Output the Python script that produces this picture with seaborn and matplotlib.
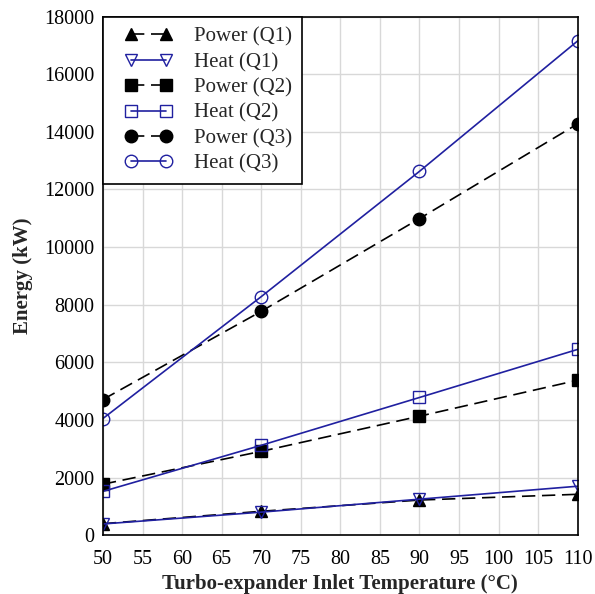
import pandas as pd
import numpy as np
import matplotlib.pyplot as plt
import seaborn as sns
from matplotlib.lines import Line2D
from matplotlib.legend_handler import HandlerLine2D

temps = [50, 70, 90, 110]
power_q1 = [400, 830, 1220, 1420]
heat_q1 = [390, 800, 1250, 1700]
power_q2 = [1770, 2910, 4130, 5380]
heat_q2 = [1520, 3120, 4780, 6450]
power_q3 = [4710, 7770, 10990, 14280]
heat_q3 = [4050, 8280, 12630, 17160]

series = [
    ('Power (Q1)', power_q1, 'black', '^', 'full', (0, (8, 4))),
    ('Heat (Q1)', heat_q1, '#2020a0', 'v', 'none', '-'),
    ('Power (Q2)', power_q2, 'black', 's', 'full', (0, (8, 4))),
    ('Heat (Q2)', heat_q2, '#2020a0', 's', 'none', '-'),
    ('Power (Q3)', power_q3, 'black', 'o', 'full', (0, (8, 4))),
    ('Heat (Q3)', heat_q3, '#2020a0', 'o', 'none', '-'),
]

sns.set_style('white')
plt.rcParams['font.family'] = ['Liberation Serif', 'DejaVu Serif']

fig = plt.figure(figsize=(5.95, 5.94), dpi=100)
ax = fig.add_axes([0.173, 0.099, 0.798, 0.873])

for name, vals, col, mk, fill, ls in series:
    df = pd.DataFrame({'T': temps, 'E': vals})
    sns.lineplot(data=df, x='T', y='E', ax=ax, color=col, marker=mk,
                 markersize=9, fillstyle=fill, markeredgecolor=col,
                 markerfacecolor=col if fill == 'full' else 'none',
                 markeredgewidth=1.0, linewidth=1.2, linestyle=ls, label=name)

ax.set_xlim(50, 110)
ax.set_ylim(0, 18000)
ax.set_xticks(np.arange(50, 111, 5))
ax.set_yticks(np.arange(0, 18001, 2000))
ax.grid(True, color='#d8d8d8', linewidth=1.0)
ax.set_axisbelow(True)
for s in ax.spines.values():
    s.set_color('black')
    s.set_linewidth(1.2)
ax.tick_params(labelsize=14.5, colors='black', length=0)
ax.tick_params(axis='x', pad=11)
ax.tick_params(axis='y', pad=6)
ax.set_xlabel('Turbo-expander Inlet Temperature (°C)', fontsize=15, fontweight='bold', labelpad=3)
ax.set_ylabel('Energy (kW)', fontsize=15, fontweight='bold', labelpad=8)

leg = ax.legend(loc='upper left', fontsize=15, frameon=True, fancybox=False,
                edgecolor='black', framealpha=1, borderpad=0.5, labelspacing=0.28,
                handlelength=3.4, handletextpad=0.45, borderaxespad=0.0,
                handler_map={Line2D: HandlerLine2D(numpoints=2, marker_pad=0.85)})
leg.get_frame().set_linewidth(1.2)

plt.savefig('out.png', dpi=100)
